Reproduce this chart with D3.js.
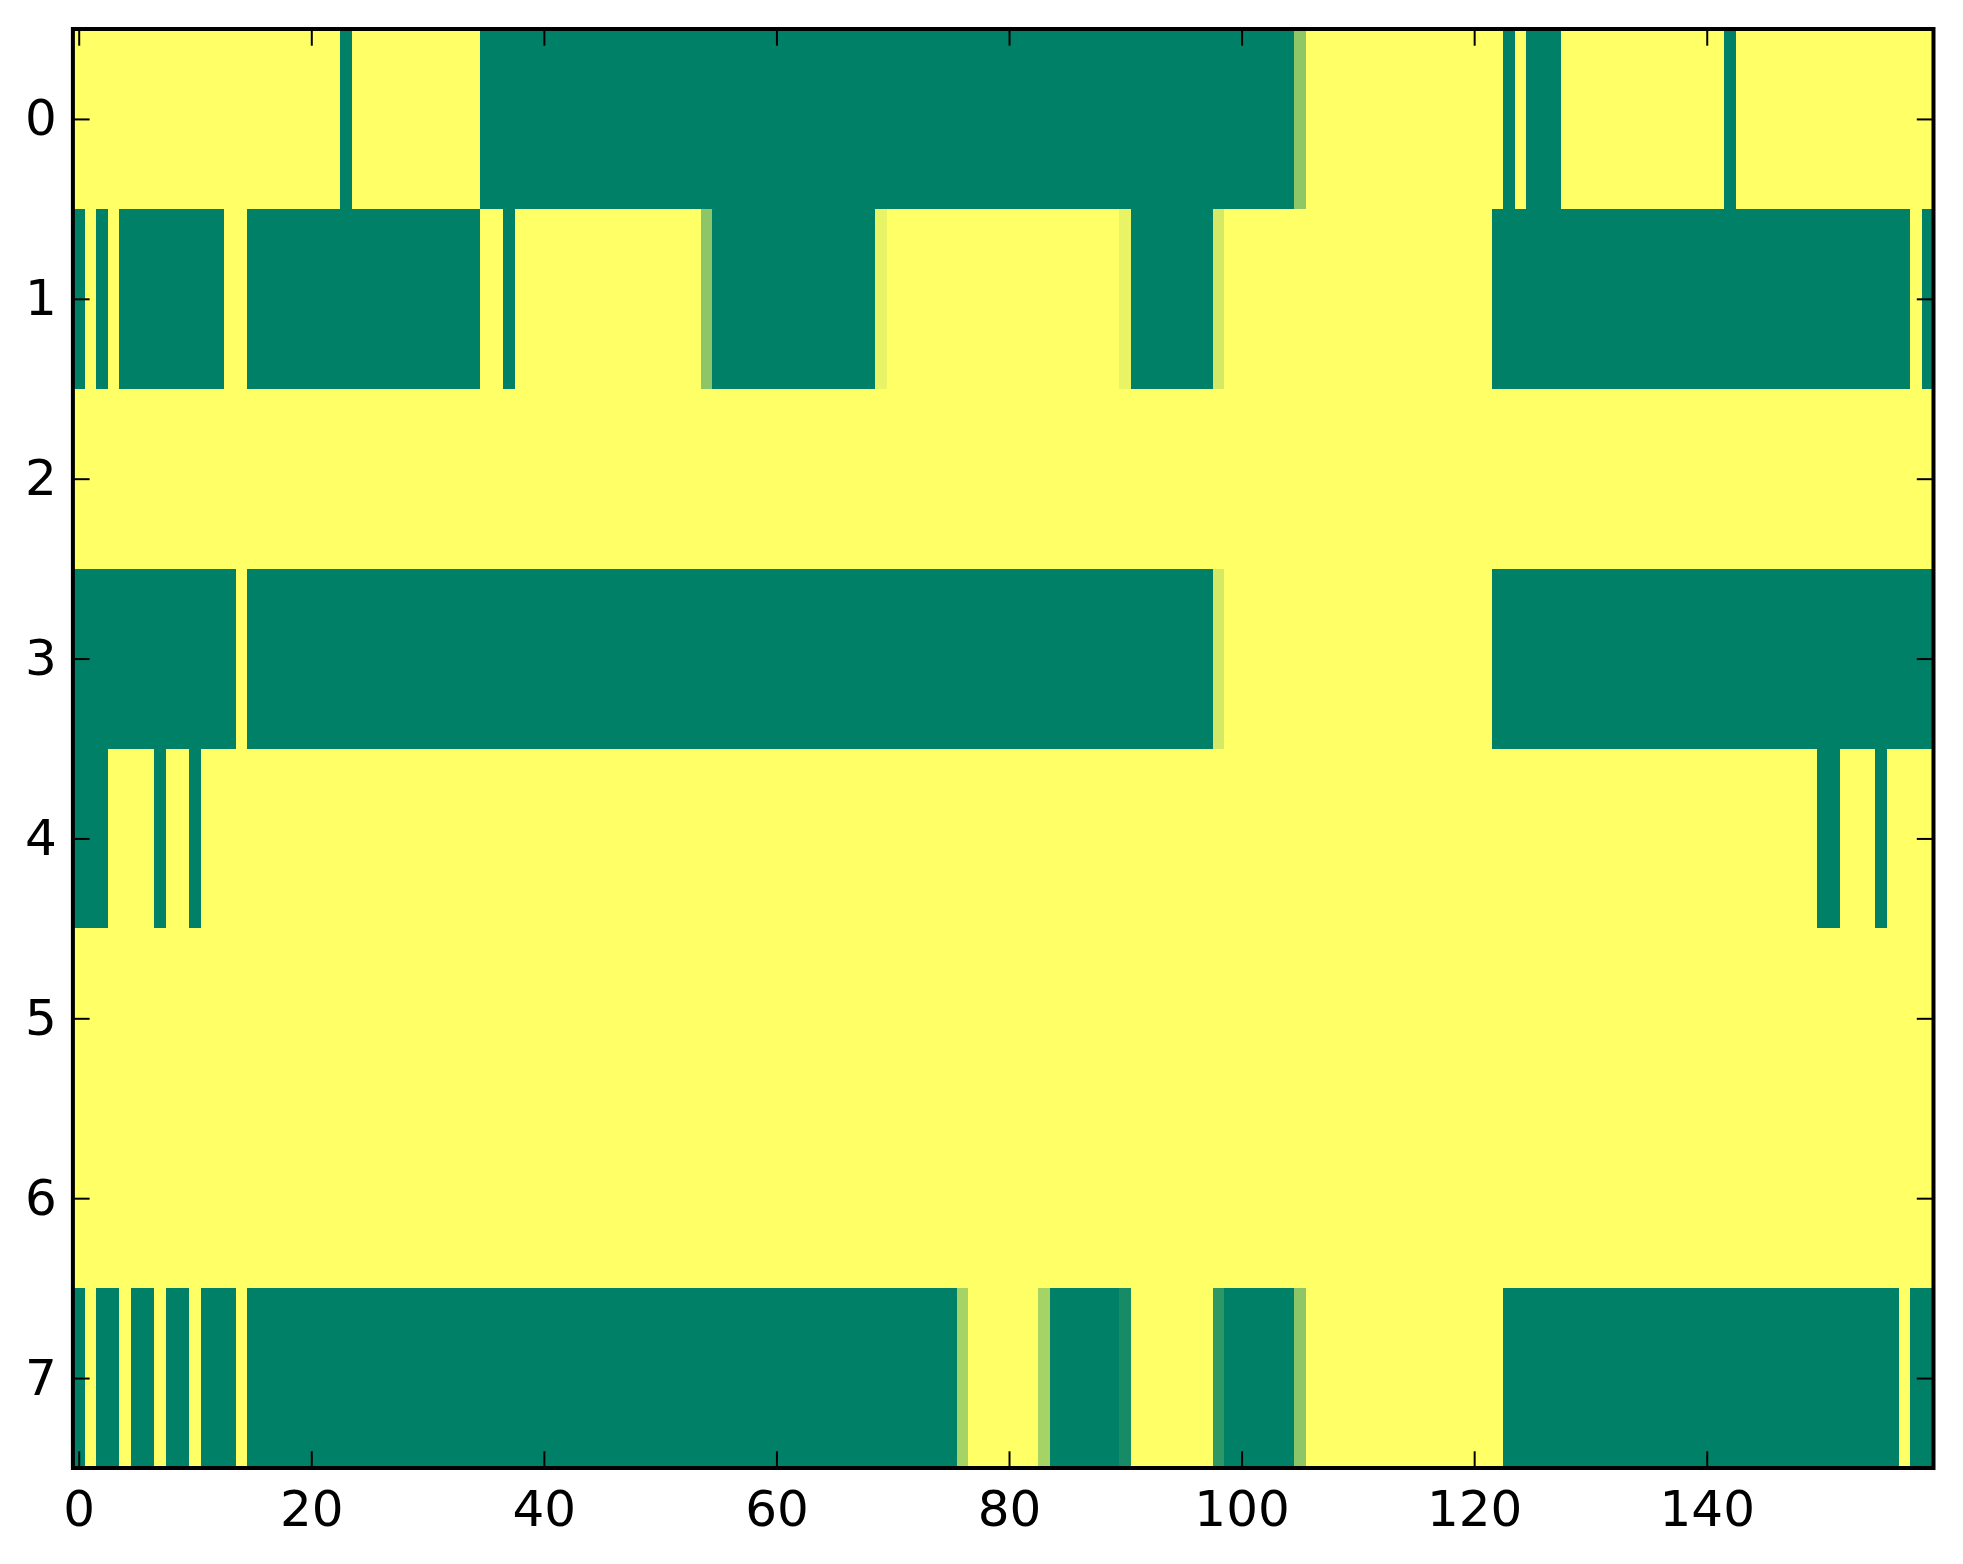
<!DOCTYPE html>
<html>
<head>
<meta charset="utf-8">
<script src="https://cdn.jsdelivr.net/npm/d3@7"></script>
<style>
  body { margin: 0; background: #fff; }
  .tick text { font-family: "DejaVu Sans", sans-serif; font-size: 50px; fill: #000; }
  .tick line { stroke: #000; stroke-width: 2px; }
</style>
</head>
<body>
<div id="canvas"></div>
<script>
// values per row, as runs of [first column, last column, value]
var row0 = [[0, 22, 1], [23, 23, 0], [24, 34, 1], [35, 104, 0], [105, 105, 0.56], [106, 122, 1],
    [123, 123, 0], [124, 124, 1], [125, 127, 0], [128, 141, 1], [142, 142, 0], [143, 159, 1]];
var row1 = [[0, 0, 0], [1, 1, 1], [2, 2, 0], [3, 3, 1], [4, 12, 0], [13, 14, 1], [15, 34, 0],
    [35, 36, 1], [37, 37, 0], [38, 53, 1], [54, 54, 0.55], [55, 68, 0], [69, 69, 0.91],
    [70, 89, 1], [90, 90, 0.91], [91, 97, 0], [98, 98, 0.83], [99, 121, 1], [122, 157, 0],
    [158, 158, 1], [159, 159, 0]];
var row2 = [[0, 159, 1]];
var row3 = [[0, 13, 0], [14, 14, 1], [15, 97, 0], [98, 98, 0.83], [99, 121, 1], [122, 159, 0]];
var row4 = [[0, 2, 0], [3, 6, 1], [7, 7, 0], [8, 9, 1], [10, 10, 0], [11, 149, 1],
    [150, 151, 0], [152, 154, 1], [155, 155, 0], [156, 159, 1]];
var row5 = [[0, 159, 1]];
var row6 = [[0, 159, 1]];
var row7 = [[0, 0, 0], [1, 1, 1], [2, 3, 0], [4, 4, 1], [5, 6, 0], [7, 7, 1], [8, 9, 0],
    [10, 10, 1], [11, 13, 0], [14, 14, 1], [15, 75, 0], [76, 76, 0.65], [77, 82, 1],
    [83, 83, 0.65], [84, 89, 0], [90, 90, 0.09], [91, 97, 1], [98, 98, 0.18], [99, 104, 0],
    [105, 105, 0.55], [106, 122, 1], [123, 156, 0], [157, 157, 1], [158, 159, 0]];
var rows = [row0, row1, row2, row3, row4, row5, row6, row7];
var nCols = 160;
var xTicks = [0, 20, 40, 60, 80, 100, 120, 140];
var yTicks = [0, 1, 2, 3, 4, 5, 6, 7];

function init() {
    var W = 1963, H = 1564;
    var left = 72.9, right = 1933.5, top = 29, bottom = 1468;
    var tickLen = 16.7;

    var svg = d3.select("#canvas").append("svg")
        .attr("width", W)
        .attr("height", H);

    var x = d3.scaleLinear().domain([-0.5, nCols - 0.5]).range([left, right]);
    var y = d3.scaleLinear().domain([-0.5, rows.length - 0.5]).range([top, bottom]);
    // matplotlib "summer" colormap
    var color = d3.scaleLinear().domain([0, 1]).range(["#008066", "#ffff66"]);

    // expand the runs into cells
    var cells = [];
    rows.forEach(function (runs, r) {
        runs.forEach(function (run) {
            for (var c = run[0]; c <= run[1]; c++) {
                cells.push({ row: r, col: c, value: run[2] });
            }
        });
    });

    svg.append("g")
        .selectAll("rect")
        .data(cells)
        .enter().append("rect")
        .attr("x", function (d) { return x(d.col - 0.5); })
        .attr("y", function (d) { return y(d.row - 0.5); })
        .attr("width", x(1) - x(0) + 0.3)
        .attr("height", y(1) - y(0) + 0.3)
        .attr("shape-rendering", "crispEdges")
        .style("fill", function (d) { return color(d.value); });

    // axes, ticks pointing inward on all four sides
    var gx = svg.append("g")
        .attr("transform", "translate(0," + bottom + ")")
        .call(d3.axisBottom(x).tickValues(xTicks).tickSize(-tickLen).tickPadding(22).tickSizeOuter(0));
    var gxt = svg.append("g")
        .attr("transform", "translate(0," + top + ")")
        .call(d3.axisTop(x).tickValues(xTicks).tickSize(-tickLen).tickFormat("").tickSizeOuter(0));
    var gy = svg.append("g")
        .attr("transform", "translate(" + left + ",0)")
        .call(d3.axisLeft(y).tickValues(yTicks).tickSize(-tickLen).tickPadding(16).tickSizeOuter(0));
    var gyr = svg.append("g")
        .attr("transform", "translate(" + right + ",0)")
        .call(d3.axisRight(y).tickValues(yTicks).tickSize(-tickLen).tickFormat("").tickSizeOuter(0));
    [gx, gxt, gy, gyr].forEach(function (g) {
        g.select(".domain").remove();
        g.attr("font-size", null).attr("font-family", null);
    });
    gy.selectAll("text").attr("dy", "0.32em");

    // frame
    svg.append("rect")
        .attr("x", left)
        .attr("y", top)
        .attr("width", right - left)
        .attr("height", bottom - top)
        .style("fill", "none")
        .style("stroke", "#000")
        .style("stroke-width", "4px");
}
window.onload = init;
</script>
</body>
</html>
